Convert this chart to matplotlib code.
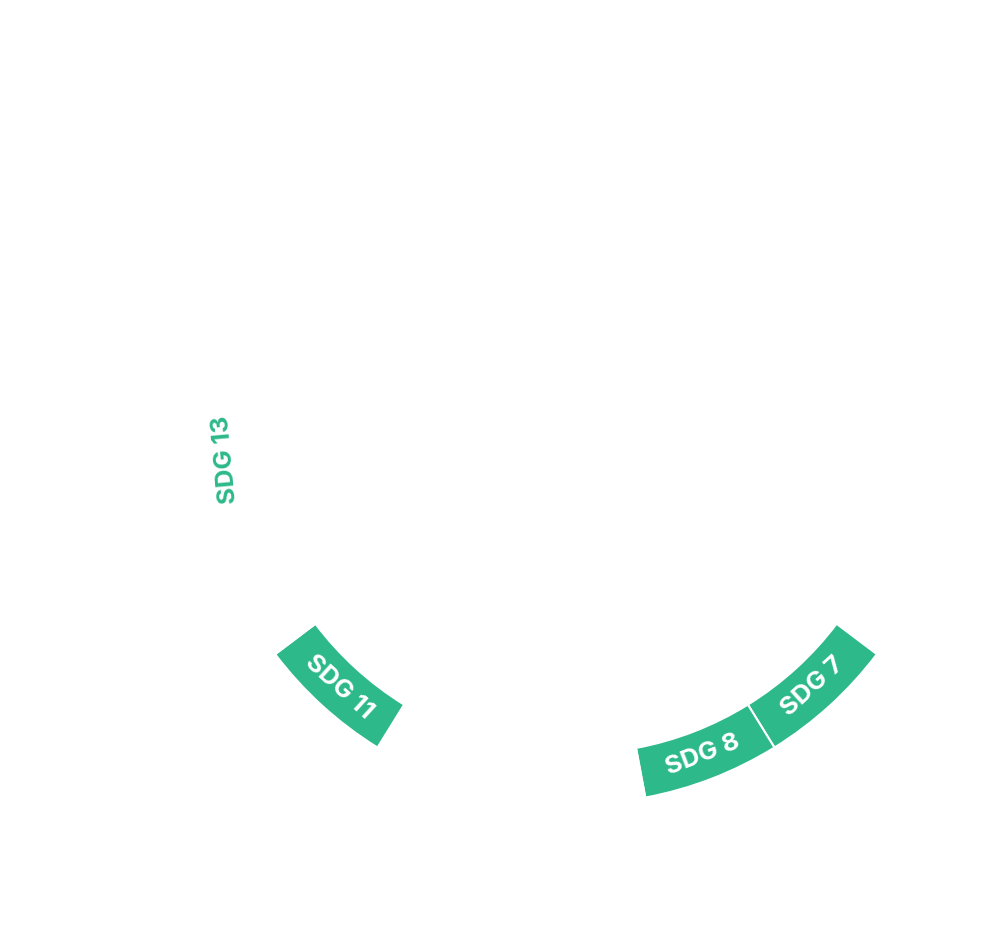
import numpy as np
import matplotlib
matplotlib.use("Agg")
import matplotlib.pyplot as plt

# SDG ring, 17 equal slots, clockwise from the top
goals = ["SDG 1", "SDG 2", "SDG 3", "SDG 4", "SDG 5", "SDG 6", "SDG 7", "SDG 8", "SDG 9",
         "SDG 10", "SDG 11", "SDG 12", "SDG 13", "SDG 14", "SDG 15", "SDG 16", "SDG 17"]
shares = [1] * len(goals)
filled = ["SDG 7", "SDG 8", "SDG 11"]   # segments drawn in green
text_only = ["SDG 13"]                   # label shown without a segment

green = "#2db98a"

fig = plt.figure(figsize=(9.82, 9.49), dpi=100)
ax = fig.add_axes([0, 0, 1, 1])

cx, cy = 576, 522
r_out, r_in = 377, 326.5

colors = [green if g in filled else "white" for g in goals]
wedges, _ = ax.pie(shares, colors=colors, startangle=90, counterclock=False,
                   radius=r_out, center=(cx, cy), frame=True,
                   wedgeprops=dict(width=r_out - r_in, edgecolor="white", linewidth=1.5))
ax.set_xlim(0, 982)
ax.set_ylim(0, 949)
ax.set_aspect("equal")
ax.axis("off")

r_lab = (r_out + r_in) / 2
for w, g in zip(wedges, goals):
    if g not in filled and g not in text_only:
        continue
    mid = (w.theta1 + w.theta2) / 2
    rad = np.deg2rad(mid)
    x = cx + r_lab * np.cos(rad)
    y = cy + r_lab * np.sin(rad)
    rot = (mid + 90 + 180) % 360 - 180
    if rot < -60:
        rot += 180
    elif rot > 120:
        rot -= 180
    ax.text(x, y, g, rotation=rot, rotation_mode="anchor", ha="center", va="center",
            fontsize=18.5, fontweight="bold", family=["Inter", "DejaVu Sans"],
            color="white" if g in filled else green)

fig.savefig("out.png", dpi=100)
